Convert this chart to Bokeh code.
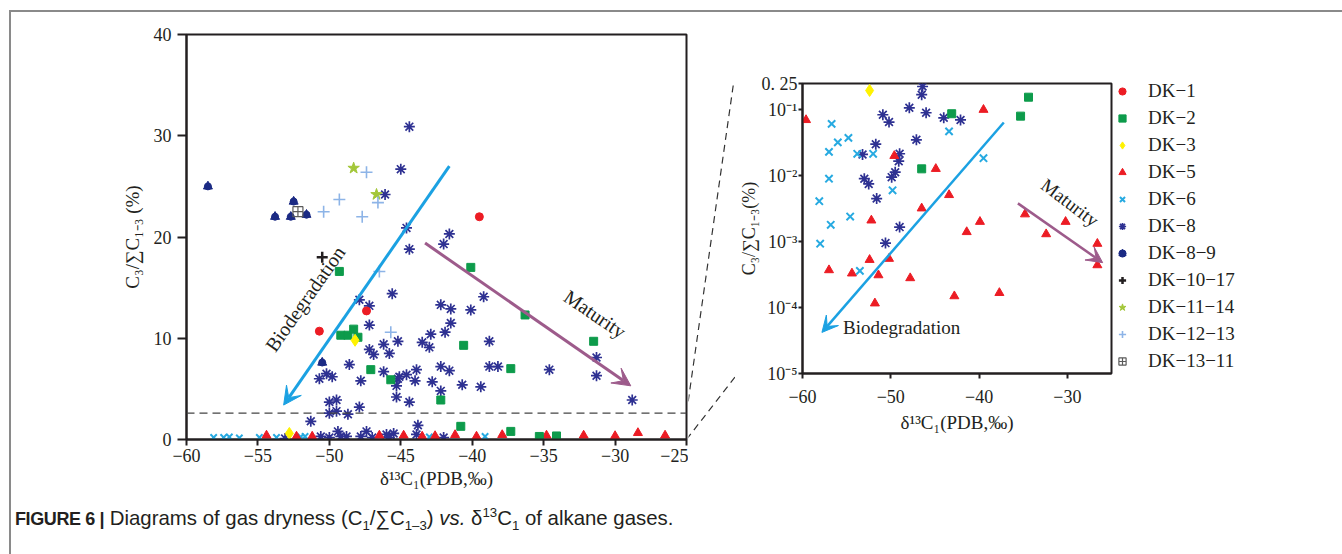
from bokeh.plotting import figure
from bokeh.models import (Range1d, FixedTicker, Span, Arrow, VeeHead, Label,
                          Legend, LegendItem, Spacer, Div)
from bokeh.layouts import row, column
from bokeh.embed import file_html
from bokeh.resources import INLINE

SERIF = "Liberation Serif"
INK = "#231f20"
RED = "#ec1c24"
GREEN = "#0d9b4b"
YELLOW = "#fff200"
SKY = "#27aae1"
NAVY = "#2e3192"
DROP = "#1b2a84"
OLIVE = "#a3c739"
LIGHT = "#8db4e7"
GRAY = "#5a5a5a"
BIO = "#1ba1e2"
MAT = "#9d5b8b"

# ---------------- left panel data (linear C3/sum C1-3, %) ----------------
DK1_X = [-50.7, -47.4, -39.5]
DK1_Y = [10.7, 12.7, 22.0]

DK2_X = [-49.3, -49.2, -48.7, -48.3, -48.0, -47.1, -45.7, -40.1, -36.3, -31.5,
         -40.6, -37.3, -42.2, -40.8, -37.3, -35.3, -34.1]
DK2_Y = [16.6, 10.3, 10.3, 10.9, 10.1, 6.9, 5.9, 17.0, 12.3, 9.7,
         9.3, 7.0, 3.9, 1.3, 0.8, 0.3, 0.35]

DK3_X = [-48.2, -52.8]
DK3_Y = [9.8, 0.6]

DK5_X = [-54.4, -52.3, -51.2, -46.5, -44.8, -43.5, -42.6, -41.2, -39.7, -37.9,
         -34.8, -32.2, -30.0, -28.4, -26.5]
DK5_Y = [0.4, 0.3, 0.3, 0.4, 0.4, 0.3, 0.35, 0.45, 0.3, 0.45,
         0.4, 0.4, 0.35, 0.65, 0.4]

DK6_X = [-58.1, -57.4, -57.0, -56.3, -54.9, -53.7, -52.0, -51.7, -43.0, -39.1]
DK6_Y = [0.2, 0.2, 0.25, 0.15, 0.2, 0.2, 0.25, 0.3, 0.25, 0.3]

DK8_X = [-44.4, -45.0, -46.1, -44.6, -44.4, -41.6, -42.0,
         -45.6, -47.9, -47.2, -47.2, -46.2, -45.2, -47.2, -46.9, -45.8, -48.6,
         -46.2, -47.8, -45.2, -45.3, -45.3, -50.7, -50.2, -49.8, -50.0, -49.5,
         -50.0, -49.5, -48.7, -47.9, -51.3, -53.1, -50.6, -50.0, -49.4, -49.2,
         -48.8, -47.8, -47.4, -47.0, -46.0, -45.5,
         -42.2, -41.5, -40.1, -39.2, -41.5, -41.9, -42.9, -43.5, -43.0, -38.8,
         -42.2, -41.6, -43.9, -44.6, -45.1, -44.0, -42.8, -38.8, -38.2, -34.6,
         -31.3, -31.3, -28.8, -40.7, -39.4, -42.2, -44.4, -43.8, -45.8, -43.9,
         -42.0]
DK8_Y = [30.9, 26.7, 24.2, 20.9, 18.8, 20.3, 19.3,
         14.4, 13.8, 13.2, 11.3, 9.4, 9.7, 8.9, 8.4, 8.5, 7.4,
         6.7, 5.8, 6.0, 5.3, 4.2, 6.0, 6.5, 6.2, 3.7, 3.9,
         2.6, 2.8, 2.5, 3.2, 1.8, 0.1, 0.3, 0.2, 0.8, 0.3,
         0.3, 0.3, 0.8, 0.2, 0.5, 0.6,
         13.3, 12.9, 12.8, 14.1, 11.5, 10.6, 10.4, 9.6, 9.1, 9.7,
         7.2, 6.8, 6.9, 6.4, 6.2, 5.8, 5.7, 7.2, 7.2, 6.9,
         8.1, 6.3, 3.9, 5.4, 5.2, 4.8, 3.7, 1.4, 0.2, 0.5,
         0.2]

DK89_X = [-58.5, -53.8, -52.7, -52.5, -51.6, -50.5]
DK89_Y = [25.0, 22.0, 22.0, 23.5, 22.2, 7.6]

DK1017_X = [-50.5]
DK1017_Y = [18.0]

DK1114_X = [-48.3, -46.7]
DK1114_Y = [26.8, 24.2]

DK1213_X = [-50.4, -49.3, -47.7, -47.4, -46.6, -46.5, -45.7]
DK1213_Y = [22.5, 23.7, 22.0, 26.4, 23.4, 16.6, 10.6]

DK1311_X = [-52.2]
DK1311_Y = [22.5]

THRESHOLD = 2.6

# ---------------- right panel data (log C3/sum C1-3, %) ----------------
DK2R_X = [-34.4, -35.3, -43.1, -46.5]
DK2R_Y = [0.155, 0.080, 0.087, 0.0127]

DK3R_X = [-52.4]
DK3R_Y = [0.196]

DK5R_X = [-59.6, -39.5, -49.6, -44.9, -43.4, -46.5, -52.2, -39.9, -41.4, -34.8,
          -30.2, -32.4, -26.6, -26.6, -52.4, -50.2, -57.0, -54.4, -51.4, -47.8,
          -51.8, -42.8, -37.7]
DK5R_Y = [0.070, 0.100, 0.020, 0.0127, 0.0051, 0.0032, 0.0021, 0.0020, 0.0014, 0.0026,
          0.0020, 0.0013, 0.00093, 0.00044, 0.00053, 0.00055, 0.00037, 0.00033, 0.00031, 0.00028,
          0.000116, 0.000149, 0.000167]

DK6R_X = [-56.7, -57.0, -56.0, -54.8, -53.8, -52.0, -57.0, -58.1, -54.6, -56.8,
          -58.0, -49.8, -43.4, -39.5, -53.5]
DK6R_Y = [0.061, 0.023, 0.032, 0.0375, 0.0215, 0.0215, 0.0090, 0.0041, 0.0024, 0.0018,
          0.00093, 0.0060, 0.047, 0.0184, 0.00036]

DK8R_X = [-46.4, -46.5, -47.9, -46.0, -44.0, -42.1, -50.9, -50.2, -47.1, -51.7,
          -53.2, -49.0, -49.1, -49.5, -49.9, -53.0, -52.5, -51.6, -49.0, -50.6]
DK8R_Y = [0.225, 0.169, 0.107, 0.090, 0.0755, 0.070, 0.084, 0.065, 0.035, 0.030,
          0.021, 0.0215, 0.0166, 0.0113, 0.0095, 0.0090, 0.0075, 0.0045, 0.00166, 0.00095]

# ---------------- ticks and labels ----------------
LEFT_XTICKS = [-60, -55, -50, -45, -40, -35, -30, -25]
LEFT_XLABELS = ["\u221260", "\u221255", "\u221250", "\u221245", "\u221240",
                "\u221235", "\u221230", "\u221225"]
LEFT_YTICKS = [0, 10, 20, 30, 40]
RIGHT_XTICKS = [-60, -50, -40, -30]
RIGHT_XLABELS = ["\u221260", "\u221250", "\u221240", "\u221230"]
RIGHT_YTICKS = [1e-5, 1e-4, 1e-3, 1e-2, 1e-1, 0.25]
RIGHT_YLABELS = ["10\u207b\u2075", "10\u207b\u2074", "10\u207b\u00b3", "10\u207b\u00b2",
                 "10\u207b\u00b9", "0. 25"]

LEGEND_LABELS = ["DK\u22121", "DK\u22122", "DK\u22123", "DK\u22125", "DK\u22126", "DK\u22128",
                 "DK\u22128\u22129", "DK\u221210\u221217", "DK\u221211\u221214",
                 "DK\u221212\u221213", "DK\u221213\u221211"]

Y_LABEL = "C\u2083/\u2211C\u2081\u208b\u2083 (%)"
Y_LABEL_R = "C\u2083/\u2211C\u2081\u208b\u2083(%)"
X_LABEL = "\u03b4\u00b9\u00b3C\u2081(PDB,\u2030)"
CAPTION = ("<b style='letter-spacing:-0.4px;font-size:18px'>FIGURE 6 |</b> Diagrams of gas dryness "
           "(C<sub style='font-size:65%'>1</sub>/\u2211C<sub style='font-size:65%'>1\u20133</sub>) "
           "<i>vs.</i> \u03b4<sup style='font-size:65%'>13</sup>C<sub style='font-size:65%'>1</sub>"
           " of alkane gases.")

# trend arrows (data coordinates of each panel)
BIO_L = (-41.6, 27.0, -53.2, 3.4)
MAT_L = (-43.3, 19.4, -28.9, 5.3)
BIO_R = (-37.2, 0.064, -57.8, 4.2e-5)
MAT_R = (-35.6, 3.8e-3, -26.0, 4.8e-4)

# ---------------- layout geometry (pixels) ----------------
ROW_H = 490
TOP_B, BOT_B = 22, 63                    # shared top/bottom borders of the row
L_W, L_LEFT, L_RIGHT = 677, 175, 2
M_W = 47
R_W, R_LEFT, R_RIGHT = 378, 58, 2
R_SHIFT = 49                             # inset sits lower than the main panel
R_FRAME_H = 290
LEG_W = 229
CAP_H = 52


def style_axis(ax, tick_out, standoff, label_standoff, tick_size="18px", label_size="19px"):
    ax.axis_line_color = INK
    ax.axis_line_width = 2
    ax.major_tick_line_color = INK
    ax.major_tick_line_width = 2
    ax.major_tick_out = tick_out
    ax.major_tick_in = 0
    ax.minor_tick_line_color = None
    ax.major_label_text_font = SERIF
    ax.major_label_text_font_size = tick_size
    ax.major_label_text_color = INK
    ax.major_label_standoff = standoff
    ax.axis_label_text_font = SERIF
    ax.axis_label_text_font_style = "normal"
    ax.axis_label_text_font_size = label_size
    ax.axis_label_text_color = INK
    ax.axis_label_standoff = label_standoff


def add_series(p, xs, ys, kind, scale=1.0):
    rs = []
    if kind == "dk1":
        rs.append(p.scatter(xs, ys, marker="circle", size=8 * scale, fill_color=RED, line_color=RED))
    elif kind == "dk2":
        rs.append(p.scatter(xs, ys, marker="square", size=8 * scale, fill_color=GREEN, line_color=GREEN))
    elif kind == "dk3":
        rs.append(p.scatter(xs, ys, marker="diamond", size=12 * scale, fill_color=YELLOW, line_color=YELLOW))
    elif kind == "dk5":
        rs.append(p.scatter(xs, ys, marker="triangle", size=9 * scale, fill_color=RED, line_color=RED))
    elif kind == "dk6":
        rs.append(p.scatter(xs, ys, marker="x", size=9 * scale, line_color=SKY, line_width=2))
    elif kind == "dk8":
        rs.append(p.scatter(xs, ys, marker="asterisk", size=11 * scale, line_color=NAVY, line_width=1.7))
    elif kind == "dk89":
        rs.append(p.scatter(xs, ys, marker="triangle", size=9 * scale, fill_color=DROP, line_color=DROP))
        rs.append(p.scatter(xs, ys, marker="circle", size=7 * scale, fill_color=DROP, line_color=DROP))
    elif kind == "dk1017":
        rs.append(p.scatter(xs, ys, marker="cross", size=11 * scale, line_color=INK, line_width=2.5))
    elif kind == "dk1114":
        rs.append(p.scatter(xs, ys, marker="star", size=12 * scale, fill_color=OLIVE, line_color=OLIVE))
    elif kind == "dk1213":
        rs.append(p.scatter(xs, ys, marker="cross", size=12 * scale, line_color=LIGHT, line_width=1.6))
    elif kind == "dk1311":
        rs.append(p.scatter(xs, ys, marker="square_cross", size=10 * scale, fill_color=None,
                            line_color=GRAY, line_width=1.2))
    return rs


def base_fig(**kw):
    p = figure(output_backend="svg", toolbar_location=None, **kw)
    p.background_fill_color = "white"
    p.border_fill_color = "white"
    return p


# ---------------- left panel ----------------
left = base_fig(width=L_W, height=ROW_H, x_range=Range1d(-60, -25), y_range=Range1d(0, 40),
                min_border_left=L_LEFT, min_border_right=L_RIGHT,
                min_border_top=TOP_B, min_border_bottom=BOT_B)
left.grid.visible = False
left.outline_line_color = INK
left.outline_line_width = 2
left.xaxis.ticker = FixedTicker(ticks=LEFT_XTICKS)
left.xaxis.major_label_overrides = dict(zip(LEFT_XTICKS, LEFT_XLABELS))
left.yaxis.ticker = FixedTicker(ticks=LEFT_YTICKS)
left.xaxis.axis_label = X_LABEL
left.yaxis.axis_label = Y_LABEL
style_axis(left.xaxis[0], 6, 3, 3)
style_axis(left.yaxis[0], 9, 6, 8)

left.add_layout(Span(location=THRESHOLD, dimension="width", line_color="#444444",
                     line_width=1.3, line_dash="8 5"))

add_series(left, DK8_X, DK8_Y, "dk8")
add_series(left, DK6_X, DK6_Y, "dk6")
add_series(left, DK5_X, DK5_Y, "dk5")
add_series(left, DK2_X, DK2_Y, "dk2")
add_series(left, DK1_X, DK1_Y, "dk1")
add_series(left, DK3_X, DK3_Y, "dk3")
add_series(left, DK89_X, DK89_Y, "dk89")
add_series(left, DK1017_X, DK1017_Y, "dk1017")
add_series(left, DK1114_X, DK1114_Y, "dk1114")
add_series(left, DK1213_X, DK1213_Y, "dk1213")
add_series(left, DK1311_X, DK1311_Y, "dk1311")

left.add_layout(Arrow(end=VeeHead(size=18, fill_color=BIO, line_color=BIO),
                      x_start=BIO_L[0], y_start=BIO_L[1], x_end=BIO_L[2], y_end=BIO_L[3],
                      line_color=BIO, line_width=3))
left.add_layout(Arrow(end=VeeHead(size=18, fill_color=MAT, line_color=MAT),
                      x_start=MAT_L[0], y_start=MAT_L[1], x_end=MAT_L[2], y_end=MAT_L[3],
                      line_color=MAT, line_width=3))
left.add_layout(Label(x=-51.7, y=13.9, text="Biodegradation", angle=55, angle_units="deg",
                      text_font=SERIF, text_font_size="20px", text_color=INK,
                      text_align="center", text_baseline="middle"))
left.add_layout(Label(x=-31.4, y=12.4, text="Maturity", angle=-34, angle_units="deg",
                      text_font=SERIF, text_font_size="20px", text_color=INK,
                      text_align="center", text_baseline="middle"))

# ---------------- connector strip (continues the left panel's data space) ----------------
lx_px = (L_W - L_LEFT - L_RIGHT) / 35.0           # px per permil
ly_px = (ROW_H - TOP_B - BOT_B) / 40.0            # px per percent
mid = base_fig(width=M_W, height=ROW_H,
               x_range=Range1d(-25 + L_RIGHT / lx_px, -25 + (L_RIGHT + M_W) / lx_px),
               y_range=Range1d(0, 40), min_border_left=0, min_border_right=0,
               min_border_top=TOP_B, min_border_bottom=BOT_B,
               x_axis_location=None, y_axis_location=None)
mid.grid.visible = False
mid.outline_line_color = None
conn_top = (-25 + 47 / lx_px, 40 - R_SHIFT / ly_px)
conn_bot = (-25 + 52 / lx_px, 40 - (R_SHIFT + R_FRAME_H - 1) / ly_px)
mid.line([-25, conn_top[0]], [THRESHOLD, conn_top[1]],
         line_color="#333333", line_width=1.2, line_dash="7 5")
mid.line([-25, conn_bot[0]], [0, conn_bot[1]],
         line_color="#333333", line_width=1.2, line_dash="7 5")

# ---------------- right (inset, log) panel ----------------
right = base_fig(width=R_W, height=TOP_B + R_FRAME_H + BOT_B, x_range=Range1d(-60, -25),
                 y_range=Range1d(1e-5, 0.25), y_axis_type="log",
                 min_border_left=R_LEFT, min_border_right=R_RIGHT,
                 min_border_top=TOP_B, min_border_bottom=BOT_B)
right.grid.visible = False
right.outline_line_color = INK
right.outline_line_width = 2
right.xaxis.ticker = FixedTicker(ticks=RIGHT_XTICKS)
right.xaxis.major_label_overrides = dict(zip(RIGHT_XTICKS, RIGHT_XLABELS))
right.yaxis.ticker = FixedTicker(ticks=RIGHT_YTICKS)
right.yaxis.major_label_overrides = dict(zip(RIGHT_YTICKS, RIGHT_YLABELS))
right.xaxis.axis_label = X_LABEL
right.yaxis.axis_label = Y_LABEL_R
style_axis(right.xaxis[0], 5, 11, 6)
style_axis(right.yaxis[0], 4, 1, 0, tick_size="18px", label_size="18px")

add_series(right, DK8R_X, DK8R_Y, "dk8")
add_series(right, DK6R_X, DK6R_Y, "dk6", scale=1.15)
add_series(right, DK5R_X, DK5R_Y, "dk5")
add_series(right, DK2R_X, DK2R_Y, "dk2")
add_series(right, DK3R_X, DK3R_Y, "dk3")

right.add_layout(Arrow(end=VeeHead(size=16, fill_color=BIO, line_color=BIO),
                       x_start=BIO_R[0], y_start=BIO_R[1], x_end=BIO_R[2], y_end=BIO_R[3],
                       line_color=BIO, line_width=2.5))
right.add_layout(Arrow(end=VeeHead(size=16, fill_color=MAT, line_color=MAT),
                       x_start=MAT_R[0], y_start=MAT_R[1], x_end=MAT_R[2], y_end=MAT_R[3],
                       line_color=MAT, line_width=2.5))
right.add_layout(Label(x=-55.4, y=5.0e-5, text="Biodegradation",
                       text_font=SERIF, text_font_size="19px", text_color=INK,
                       text_align="left", text_baseline="middle"))
right.add_layout(Label(x=-29.7, y=3.9e-3, text="Maturity", angle=-37, angle_units="deg",
                       text_font=SERIF, text_font_size="19px", text_color=INK,
                       text_align="center", text_baseline="middle"))

right_col = column(Spacer(width=R_W, height=R_SHIFT), right,
                   Spacer(width=R_W, height=ROW_H - R_SHIFT - (TOP_B + R_FRAME_H + BOT_B)))

# ---------------- legend panel (series drawn off-range, legend keys only) ----------------
leg = base_fig(width=LEG_W, height=ROW_H, x_range=Range1d(0, 1), y_range=Range1d(0, 1),
               min_border_left=0, min_border_right=0,
               min_border_top=TOP_B, min_border_bottom=BOT_B,
               x_axis_location=None, y_axis_location=None)
leg.grid.visible = False
leg.outline_line_color = None
leg_series = [
    add_series(leg, DK1_X, DK1_Y, "dk1"),
    add_series(leg, DK2_X, DK2_Y, "dk2"),
    add_series(leg, DK3_X, DK3_Y, "dk3"),
    add_series(leg, DK5_X, DK5_Y, "dk5"),
    add_series(leg, DK6_X, DK6_Y, "dk6"),
    add_series(leg, DK8_X, DK8_Y, "dk8"),
    add_series(leg, DK89_X, DK89_Y, "dk89"),
    add_series(leg, DK1017_X, DK1017_Y, "dk1017"),
    add_series(leg, DK1114_X, DK1114_Y, "dk1114"),
    add_series(leg, DK1213_X, DK1213_Y, "dk1213"),
    add_series(leg, DK1311_X, DK1311_Y, "dk1311"),
]
legend = Legend(items=[LegendItem(label=lab, renderers=rs) for lab, rs in zip(LEGEND_LABELS, leg_series)],
                location=(0, 66), orientation="vertical",
                border_line_color=None, background_fill_alpha=0,
                margin=0, padding=0, spacing=3, label_height=24, glyph_height=24,
                glyph_width=18, label_standoff=17,
                label_text_font=SERIF, label_text_font_size="19px", label_text_color=INK)
leg.add_layout(legend, "center")

# ---------------- caption ----------------
cap = Div(text="<div style=\"position:relative;top:-3px;left:-1px;padding:0;margin:0;"
               "font-family:'Liberation Sans',Arial,sans-serif;"
               "font-size:20.4px;color:#231f20;white-space:nowrap;\">" + CAPTION + "</div>",
          width=1342 - 11, height=CAP_H)

# ---------------- page with outer frame ----------------
FRAME = "#8a8a8a"
content = column(row(left, mid, right_col, leg), cap)
page = column(
    Spacer(width=1342, height=10),
    row(Spacer(width=9, height=544),
        column(Spacer(width=1333, height=2, styles={"background-color": FRAME}),
               row(Spacer(width=2, height=542, styles={"background-color": FRAME}), content))))

open("out.html", "w").write(file_html(page, INLINE))
